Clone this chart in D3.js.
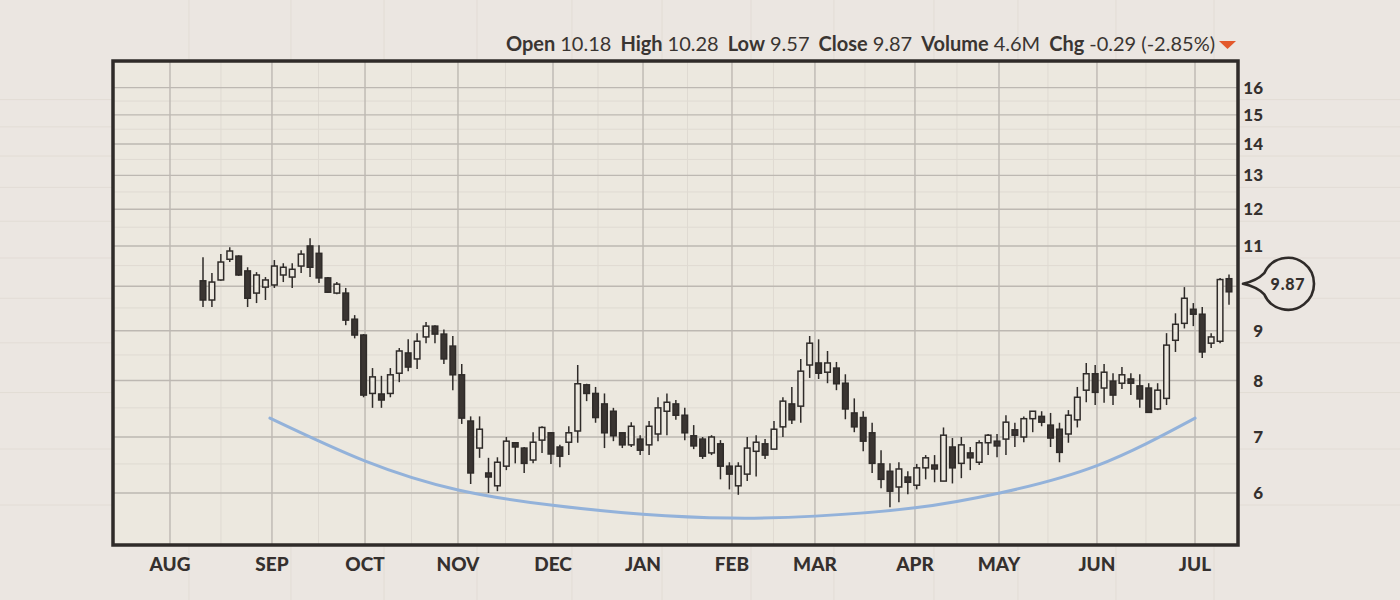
<!DOCTYPE html>
<html>
<head>
<meta charset="utf-8">
<script src="https://cdn.jsdelivr.net/npm/d3@7"></script>
<style>
  html, body { margin: 0; padding: 0; background: #ebe6e1; }
  svg { display: block; }
</style>
</head>
<body>
<div id="chart"></div>
<script>
const months = ['AUG', 'SEP', 'OCT', 'NOV', 'DEC', 'JAN', 'FEB', 'MAR', 'APR', 'MAY', 'JUN', 'JUL'];
// month starts, in candle index units
const monthPos = [-3.70, 7.73, 18.16, 28.58, 39.23, 49.32, 59.29, 68.59, 79.80, 89.22, 100.20, 111.19];
const priceTicks = [6, 7, 8, 9, 10, 11, 12, 13, 14, 15, 16];

const opens = [
  10.13, 9.68, 10.15, 10.66, 10.74, 10.37, 9.84, 9.98, 10.03, 10.27,
  10.22, 10.49, 11.00, 10.81, 10.20, 9.84, 9.84, 9.25, 8.91, 7.76,
  7.75, 7.76, 8.14, 8.54, 8.42, 8.87, 9.10, 8.93, 8.68, 8.11,
  7.27, 6.79, 6.34, 6.12, 6.46, 6.89, 6.79, 6.57, 6.94, 7.07,
  6.81, 6.90, 7.10, 7.92, 7.76, 7.57, 7.44, 7.07, 6.85, 6.96,
  6.85, 7.05, 7.44, 7.57, 7.37, 7.02, 6.96, 6.70, 6.87, 6.46,
  6.12, 6.32, 6.73, 6.87, 6.77, 7.17, 7.57, 7.53, 8.30, 8.34,
  8.16, 8.24, 7.95, 7.41, 7.33, 7.07, 6.50, 6.37, 6.10, 6.27,
  6.13, 6.43, 6.48, 6.20, 6.81, 6.51, 6.70, 6.53, 6.89, 6.92,
  6.96, 7.12, 7.00, 7.31, 7.35, 7.20, 7.13, 7.05, 7.29, 7.82,
  8.13, 7.86, 7.99, 7.95, 8.03, 7.90, 7.86, 7.48, 7.67, 8.80,
  9.16, 9.47, 9.36, 8.74, 8.78, 10.18
];
const highs = [
  10.71, 10.32, 10.79, 10.97, 10.76, 10.46, 10.34, 10.22, 10.64, 10.56,
  10.56, 10.89, 11.20, 11.02, 10.22, 10.10, 9.96, 9.34, 8.93, 8.24,
  8.09, 8.24, 8.64, 8.82, 8.95, 9.19, 9.12, 9.03, 8.89, 8.32,
  7.35, 7.35, 6.61, 6.62, 7.00, 6.90, 6.81, 7.08, 7.18, 7.08,
  6.85, 7.18, 8.30, 7.94, 7.88, 7.76, 7.50, 7.07, 7.25, 7.03,
  7.27, 7.69, 7.76, 7.64, 7.50, 7.20, 7.00, 7.03, 6.94, 6.53,
  6.53, 7.00, 7.03, 6.96, 7.27, 7.69, 7.88, 8.42, 8.89, 8.82,
  8.58, 8.36, 8.12, 7.67, 7.44, 7.24, 6.75, 6.51, 6.53, 6.37,
  6.50, 6.66, 6.66, 7.16, 6.98, 7.00, 6.81, 6.94, 7.05, 7.05,
  7.37, 7.24, 7.35, 7.44, 7.44, 7.41, 7.24, 7.46, 7.88, 8.34,
  8.30, 8.32, 8.14, 8.26, 8.14, 8.12, 7.95, 7.95, 8.95, 9.38,
  9.98, 9.61, 9.52, 8.95, 10.20, 10.28
];
const lows = [
  9.52, 9.52, 10.13, 10.59, 10.25, 9.52, 9.61, 9.68, 9.96, 10.10,
  9.96, 10.32, 10.22, 10.08, 9.84, 9.81, 9.12, 8.84, 7.69, 7.50,
  7.50, 7.69, 7.97, 8.18, 8.22, 8.74, 8.74, 8.32, 7.82, 7.22,
  6.15, 6.61, 6.00, 6.03, 6.39, 6.51, 6.34, 6.51, 6.70, 6.50,
  6.44, 6.66, 6.89, 7.62, 7.24, 6.79, 6.92, 6.79, 6.81, 6.66,
  6.66, 6.92, 7.03, 7.29, 6.94, 6.77, 6.59, 6.66, 6.23, 6.06,
  5.97, 6.20, 6.28, 6.59, 6.77, 7.00, 7.22, 7.24, 8.05, 8.03,
  7.95, 7.82, 7.30, 7.08, 6.73, 6.34, 6.08, 5.77, 5.85, 5.98,
  6.06, 6.23, 6.18, 6.20, 6.16, 6.25, 6.39, 6.48, 6.66, 6.62,
  6.66, 6.81, 6.90, 7.08, 7.18, 6.81, 6.53, 6.89, 7.16, 7.60,
  7.55, 7.59, 7.55, 7.84, 7.73, 7.50, 7.42, 7.46, 7.55, 8.56,
  9.05, 9.10, 8.44, 8.64, 8.74, 9.57
];
const closes = [
  9.68, 10.10, 10.59, 10.87, 10.27, 9.72, 10.27, 10.15, 10.49, 10.46,
  10.41, 10.79, 10.46, 10.20, 9.86, 10.05, 9.23, 8.91, 7.73, 8.07,
  7.64, 8.11, 8.58, 8.26, 8.78, 9.10, 8.93, 8.42, 8.11, 7.32,
  6.34, 7.13, 6.27, 6.53, 6.92, 6.81, 6.51, 6.90, 7.16, 6.68,
  6.64, 7.07, 7.94, 7.76, 7.33, 7.07, 7.02, 6.85, 7.18, 6.75,
  7.18, 7.50, 7.60, 7.37, 7.07, 6.83, 6.64, 7.00, 6.46, 6.32,
  6.46, 6.79, 6.90, 6.66, 7.13, 7.62, 7.29, 8.18, 8.74, 8.14,
  8.34, 7.94, 7.48, 7.17, 6.92, 6.51, 6.23, 6.03, 6.41, 6.18,
  6.43, 6.61, 6.41, 7.03, 6.43, 6.85, 6.61, 6.89, 7.03, 6.83,
  7.25, 7.03, 7.31, 7.44, 7.25, 6.98, 6.71, 7.37, 7.69, 8.13,
  7.78, 8.16, 7.73, 8.11, 7.95, 7.66, 7.42, 7.82, 8.70, 9.14,
  9.72, 9.36, 8.56, 8.87, 10.16, 9.87
];
const volume = '4.6M';

// rounding-bottom guide: [candle index, price]
const bowlIdx = [7.5, 18.2, 28.6, 39.2, 49.3, 59.1, 68.6, 79.8, 89.3, 100.2, 111.2];
const bowlPrice = [7.32, 6.55, 6.05, 5.80, 5.66, 5.60, 5.63, 5.76, 6.00, 6.47, 7.32];

const dims = {
  width: 1400,
  height: 600,
  left: 113,
  top: 61,
  right: 1238,
  bottom: 545
};

const ink = '#2f2b29';
const paper = '#ebe6e1';
const plotFill = '#ece8df';

const candles = opens.map((o, i) => ({
  i, open: o, high: highs[i], low: lows[i], close: closes[i]
}));
const bowl = bowlIdx.map((d, i) => [d, bowlPrice[i]]);

const svg = d3.select('#chart')
  .append('svg')
  .attr('width', dims.width)
  .attr('height', dims.height);

svg.append('rect')
  .attr('width', dims.width)
  .attr('height', dims.height)
  .attr('fill', paper);

const xScale = d3.scaleLinear()
  .domain([0, candles.length - 1])
  .range([203, 1229]);

const yScale = d3.scaleLog()
  .domain([6, 7, 17])
  .range([493, 437, 62]);

// faint graph-paper texture across the page
const texture = svg.append('g')
  .attr('stroke', '#e2dcd5')
  .attr('stroke-width', 1);
texture.selectAll('line.tv')
  .data(monthPos)
  .join('line')
  .attr('class', 'tv')
  .attr('x1', (d) => xScale(d) + 19)
  .attr('x2', (d) => xScale(d) + 19)
  .attr('y1', 0)
  .attr('y2', dims.height);
texture.selectAll('line.th')
  .data(priceTicks)
  .join('line')
  .attr('class', 'th')
  .attr('x1', 0)
  .attr('x2', dims.width)
  .attr('y1', (d) => yScale(d) + 12)
  .attr('y2', (d) => yScale(d) + 12);

svg.append('rect')
  .attr('x', dims.left)
  .attr('y', dims.top)
  .attr('width', dims.right - dims.left)
  .attr('height', dims.bottom - dims.top)
  .attr('fill', plotFill);

const plot = svg.append('g');

// minor grid
const mids = monthPos.slice(0, -1).map((d, i) => (d + monthPos[i + 1]) / 2);
plot.append('g')
  .selectAll('line')
  .data(mids)
  .join('line')
  .attr('x1', (d) => xScale(d))
  .attr('x2', (d) => xScale(d))
  .attr('y1', dims.top)
  .attr('y2', dims.bottom)
  .attr('stroke', '#dfdad2')
  .attr('stroke-width', 1);

const midTicks = priceTicks.slice(0, -1).map((d) => d + 0.5);
plot.append('g')
  .selectAll('line')
  .data(midTicks)
  .join('line')
  .attr('x1', dims.left)
  .attr('x2', dims.right)
  .attr('y1', (d) => yScale(d))
  .attr('y2', (d) => yScale(d))
  .attr('stroke', '#dfdad2')
  .attr('stroke-width', 1);

// major grid
plot.append('g')
  .selectAll('line')
  .data(monthPos)
  .join('line')
  .attr('x1', (d) => xScale(d))
  .attr('x2', (d) => xScale(d))
  .attr('y1', dims.top)
  .attr('y2', dims.bottom)
  .attr('stroke', '#bdb8b2')
  .attr('stroke-width', 1.4);

plot.append('g')
  .selectAll('line')
  .data(priceTicks)
  .join('line')
  .attr('x1', dims.left)
  .attr('x2', dims.right)
  .attr('y1', (d) => yScale(d))
  .attr('y2', (d) => yScale(d))
  .attr('stroke', '#bdb8b2')
  .attr('stroke-width', 1.4);

// rounding bottom
const bowlLine = d3.line()
  .x((d) => xScale(d[0]))
  .y((d) => yScale(d[1]))
  .curve(d3.curveNatural);

plot.append('path')
  .datum(bowl)
  .attr('d', bowlLine)
  .attr('fill', 'none')
  .attr('stroke', '#93b2da')
  .attr('stroke-width', 3)
  .attr('stroke-linecap', 'round');

// candles
const bodyW = 5.6;
const candleG = plot.append('g')
  .selectAll('g')
  .data(candles)
  .join('g');

candleG.append('line')
  .attr('x1', (d) => xScale(d.i))
  .attr('x2', (d) => xScale(d.i))
  .attr('y1', (d) => yScale(d.high))
  .attr('y2', (d) => yScale(d.low))
  .attr('stroke', ink)
  .attr('stroke-width', 1.5);

candleG.append('rect')
  .attr('x', (d) => xScale(d.i) - bodyW / 2)
  .attr('y', (d) => yScale(Math.max(d.open, d.close)))
  .attr('width', bodyW)
  .attr('height', (d) => Math.max(1.5, yScale(Math.min(d.open, d.close)) - yScale(Math.max(d.open, d.close))))
  .attr('fill', (d) => (d.close >= d.open ? plotFill : '#3a3532'))
  .attr('stroke', ink)
  .attr('stroke-width', 1.5);

// frame
svg.append('rect')
  .attr('x', dims.left)
  .attr('y', dims.top)
  .attr('width', dims.right - dims.left)
  .attr('height', dims.bottom - dims.top)
  .attr('fill', 'none')
  .attr('stroke', ink)
  .attr('stroke-width', 3.5);

// y labels (10 is covered by the price callout)
svg.append('g')
  .selectAll('text')
  .data(priceTicks.filter((d) => d !== 10))
  .join('text')
  .attr('x', 1263)
  .attr('y', (d) => yScale(d) + 6)
  .attr('text-anchor', 'end')
  .attr('font-family', 'Lato, sans-serif')
  .attr('font-weight', 900)
  .attr('font-size', 17)
  .attr('fill', '#35302e')
  .text((d) => d);

// month labels
svg.append('g')
  .selectAll('text')
  .data(months)
  .join('text')
  .attr('x', (d, i) => xScale(monthPos[i]))
  .attr('y', 571)
  .attr('text-anchor', 'middle')
  .attr('font-family', 'Lato, sans-serif')
  .attr('font-weight', 900)
  .attr('font-size', 19)
  .attr('fill', '#35302e')
  .text((d) => d);

// header
const last = candles[candles.length - 1];
const prev = candles[candles.length - 2];
const chg = last.close - prev.close;
const pct = (chg / prev.close) * 100;
const fmt = (v) => d3.format('.2f')(v).replace('\u2212', '-');
const headerItems = [
  ['Open', fmt(last.open)],
  ['High', fmt(last.high)],
  ['Low', fmt(last.low)],
  ['Close', fmt(last.close)],
  ['Volume', volume],
  ['Chg', `${fmt(chg)} (${fmt(pct)}%)`]
];

const header = svg.append('text')
  .attr('x', 1215)
  .attr('y', 51)
  .attr('text-anchor', 'end')
  .attr('font-family', 'Lato, sans-serif')
  .attr('font-size', 20)
  .attr('fill', '#3a3532');

headerItems.forEach(([label, value], i) => {
  header.append('tspan')
    .attr('dx', i === 0 ? 0 : 9)
    .attr('font-weight', 700)
    .text(label);
  header.append('tspan')
    .attr('dx', 5)
    .attr('font-weight', 400)
    .text(value);
});

const arrow = chg < 0 ? 'M1219,41 L1236,41 L1227.5,49 Z' : 'M1219,49 L1236,49 L1227.5,41 Z';
svg.append('path')
  .attr('d', arrow)
  .attr('fill', '#e3592c');

// last price callout
const cy = yScale(last.close) - 8;
const cx = 1288;
const r = 26;
const tipX = 1243;
const a = (24 * Math.PI) / 180;
const p1 = [cx - r * Math.cos(a), cy - r * Math.sin(a)];
const p2 = [cx - r * Math.cos(a), cy + r * Math.sin(a)];

svg.append('path')
  .attr('d', `M${tipX},${cy} Q${tipX + 14},${cy - 3} ${p1[0]},${p1[1]} A${r},${r} 0 1 1 ${p2[0]},${p2[1]} Q${tipX + 14},${cy + 3} ${tipX},${cy} Z`)
  .attr('fill', paper)
  .attr('stroke', ink)
  .attr('stroke-width', 2.6)
  .attr('stroke-linejoin', 'round');

svg.append('text')
  .attr('x', cx)
  .attr('y', cy + 6)
  .attr('text-anchor', 'middle')
  .attr('font-family', 'Lato, sans-serif')
  .attr('font-weight', 900)
  .attr('font-size', 16)
  .attr('letter-spacing', 0.8)
  .attr('fill', '#35302e')
  .text(fmt(last.close));
</script>
</body>
</html>
